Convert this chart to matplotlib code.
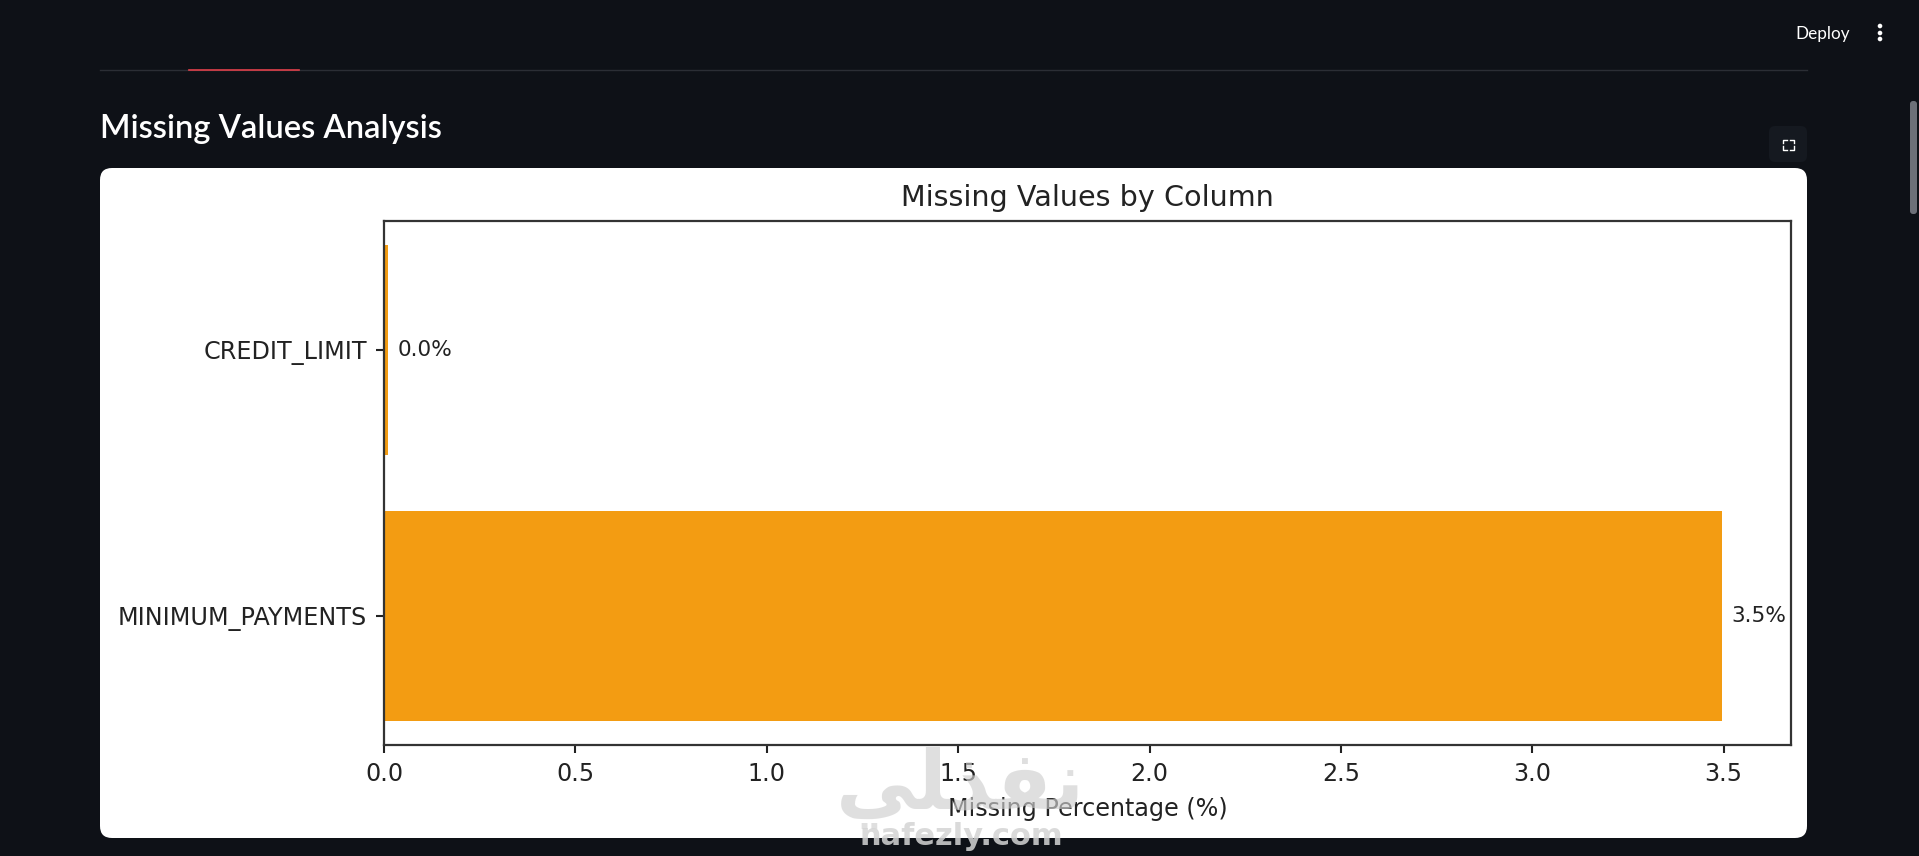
import matplotlib
matplotlib.use("Agg")
import matplotlib.pyplot as plt
from matplotlib.patches import FancyBboxPatch, Circle

W, H = 1919, 856
columns = ["MINIMUM_PAYMENTS", "CREDIT_LIMIT"]
missing_pct = [3.497, 0.011]
value_labels = ["3.5%", "0.0%"]
x_ticks = [0.0, 0.5, 1.0, 1.5, 2.0, 2.5, 3.0, 3.5]

BG = "#0e1117"
BAR = "#f39c12"
INK = "#222222"

fig = plt.figure(figsize=(W / 100, H / 100), dpi=100, facecolor=BG)

# page furniture in pixel coordinates
page = fig.add_axes([0, 0, 1, 1], zorder=-1)
page.set_xlim(0, W)
page.set_ylim(H, 0)
page.axis("off")
page.add_patch(FancyBboxPatch((112, 180), 1683, 646,
                              boxstyle="round,pad=12,rounding_size=12",
                              fc="white", ec="none"))
page.plot([100, 1807], [70, 70], color="#2b2e35", lw=1)
page.plot([189, 299], [70, 70], color="#e0404a", lw=1.2)
page.add_patch(FancyBboxPatch((1775, 132), 26, 24, boxstyle="round,pad=6,rounding_size=6",
                              fc="#151920", ec="none"))
for xs, ys in [([1783, 1783, 1787], [143, 139.5, 139.5]), ([1790, 1794, 1794], [139.5, 139.5, 143]),
               ([1783, 1783, 1787], [146, 149.5, 149.5]), ([1790, 1794, 1794], [149.5, 149.5, 146])]:
    page.plot(xs, ys, color="white", lw=1)
page.add_patch(FancyBboxPatch((1912, 103), 3, 109, boxstyle="round,pad=2,rounding_size=3",
                              fc="#6d7078", ec="none"))
for cy in (26, 33, 39):
    page.add_patch(Circle((1880, cy), 2.3, fc="white", ec="none"))
page.text(100, 138, "Missing Values Analysis", color="white", fontsize=23.5, family="Lato",
          weight="semibold", va="baseline", ha="left")
page.text(1795, 34, "Deploy", color="white", fontsize=12.3, family="Lato", va="center", ha="left")

# chart
ax = fig.add_axes([384 / W, 1 - 745 / H, (1791 - 384) / W, (745 - 221) / H])
bars = ax.barh(columns, missing_pct, color=BAR, height=0.79)
for y, (v, lab) in enumerate(zip(missing_pct, value_labels)):
    ax.text(v + 0.024, y, lab, va="center", ha="left", fontsize=15.6, color=INK)
ax.set_xticks(x_ticks)
ax.set_xlim(0, 3.676)
ax.tick_params(axis="both", labelsize=17.2, length=6, width=1.5, colors=INK, pad=6)
ax.set_xlabel("Missing Percentage (%)", fontsize=17.2, color=INK, labelpad=8)
ax.set_title("Missing Values by Column", fontsize=20.6, color=INK, pad=11)
for s in ax.spines.values():
    s.set_linewidth(1.6)
    s.set_color("#333333")

# watermark
fig.text(960, H - 808, "\ufef2\ufee0\ufeac\ufed4\ufee7",
         transform=None, fontsize=58, family="DejaVu Sans", weight="bold",
         color="#cfcfcf", alpha=0.65, ha="center", va="baseline", zorder=10)
fig.text(961, H - 845, "nafezly.com", transform=None, fontsize=22, family="DejaVu Sans",
         weight="bold", color="#d4d4d4", alpha=0.85, ha="center", va="baseline", zorder=10)

fig.savefig("out.png", dpi=100, facecolor=BG)
